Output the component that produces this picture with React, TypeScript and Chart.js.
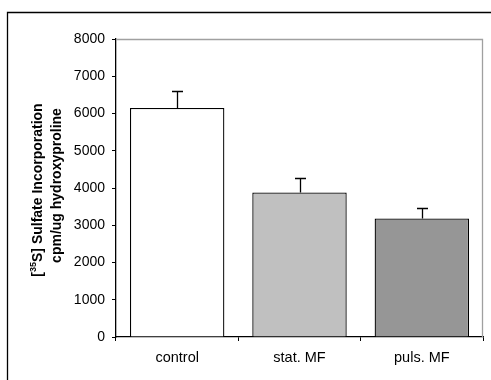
import React, { useEffect, useRef } from "react";
import { Chart, registerables } from "chart.js";

Chart.register(...registerables);

const categories = ["control", "stat. MF", "puls. MF"];
const values = [6150, 3880, 3180];
const errors = [460, 400, 280];
const barColors = ["#ffffff", "#c0c0c0", "#969696"];
const yTitleLine1 = ["[", "35", "S] Sulfate Incorporation"];
const yTitleLine2 = "cpm/ug hydroxyproline";

const FONT = "'Liberation Sans', Arial, sans-serif";

const framePlugin = {
  id: "frame",
  beforeDraw(chart: any) {
    const { ctx, width, height } = chart;
    ctx.save();
    ctx.fillStyle = "#ffffff";
    ctx.fillRect(0, 0, width, height);
    ctx.strokeStyle = "#000000";
    ctx.lineWidth = 1.3;
    ctx.beginPath();
    ctx.moveTo(7.5, height);
    ctx.lineTo(7.5, 12.5);
    ctx.lineTo(width, 12.5);
    ctx.stroke();
    ctx.restore();
  },
  afterDatasetsDraw(chart: any) {
    const { ctx, chartArea } = chart;
    const x = chart.scales.x;
    const y = chart.scales.y;
    ctx.save();
    ctx.strokeStyle = "#a0a0a0";
    ctx.lineWidth = 1.3;
    ctx.beginPath();
    ctx.moveTo(chartArea.left, chartArea.top + 0.5);
    ctx.lineTo(chartArea.right - 0.5, chartArea.top + 0.5);
    ctx.lineTo(chartArea.right - 0.5, chartArea.bottom);
    ctx.stroke();
    ctx.strokeStyle = "#000000";
    ctx.lineWidth = 1.3;
    values.forEach((v, i) => {
      const cx = Math.round(x.getPixelForValue(i)) + 0.5;
      const yTop = y.getPixelForValue(v);
      const yErr = Math.round(y.getPixelForValue(v + errors[i])) + 0.5;
      ctx.beginPath();
      ctx.moveTo(cx, yTop);
      ctx.lineTo(cx, yErr);
      ctx.moveTo(cx - 5.5, yErr);
      ctx.lineTo(cx + 5.5, yErr);
      ctx.stroke();
    });
    const cy = (chartArea.top + chartArea.bottom) / 2;
    ctx.fillStyle = "#000000";
    ctx.textBaseline = "middle";
    const big = "bold 14px " + FONT;
    const small = "bold 9px " + FONT;
    ctx.translate(38, cy);
    ctx.rotate(-Math.PI / 2);
    ctx.font = big;
    const w0 = ctx.measureText(yTitleLine1[0]).width;
    const w2 = ctx.measureText(yTitleLine1[2]).width;
    ctx.font = small;
    const w1 = ctx.measureText(yTitleLine1[1]).width;
    let sx = -(w0 + w1 + w2) / 2 - 2;
    ctx.textAlign = "left";
    ctx.font = big;
    ctx.fillText(yTitleLine1[0], sx, 0);
    sx += w0;
    ctx.font = small;
    ctx.fillText(yTitleLine1[1], sx, -4);
    sx += w1;
    ctx.font = big;
    ctx.fillText(yTitleLine1[2], sx, 0);
    ctx.textAlign = "center";
    ctx.fillText(yTitleLine2, 2.5, 19);
    ctx.restore();
  },
  afterDraw(chart: any) {
    const { ctx, width, height } = chart;
    ctx.save();
    ctx.fillStyle = "#ffffff";
    ctx.fillRect(485, 14, width - 485, height - 14);
    ctx.restore();
  },
};

export default function App() {
  const ref = useRef<HTMLCanvasElement>(null);
  useEffect(() => {
    if (!ref.current) return;
    const chart = new Chart(ref.current, {
      type: "bar",
      data: {
        labels: categories,
        datasets: [
          {
            data: values,
            backgroundColor: barColors,
            borderColor: "#000000",
            borderWidth: 1.3,
            categoryPercentage: 1,
            barPercentage: 0.772,
          },
        ],
      },
      options: {
        animation: false,
        responsive: false,
        maintainAspectRatio: false,
        layout: { padding: { left: 0, top: 39, right: 8, bottom: 0 } },
        plugins: { legend: { display: false }, tooltip: { enabled: false } },
        scales: {
          x: {
            afterFit: (s: any) => {
              s.height = 43;
            },
            grid: {
              offset: true,
              drawOnChartArea: false,
              drawTicks: true,
              tickLength: 4,
              color: "#000000",
            },
            border: { display: true, color: "#000000", width: 1.3 },
            ticks: {
              color: "#000000",
              font: { family: FONT, size: 14.5 },
              padding: 8,
              maxRotation: 0,
            },
          },
          y: {
            min: 0,
            max: 8000,
            afterFit: (s: any) => {
              s.width = 116;
            },
            grid: {
              drawOnChartArea: false,
              drawTicks: true,
              tickLength: 4,
              color: "#000000",
            },
            border: { display: true, color: "#000000", width: 1.3 },
            ticks: {
              stepSize: 1000,
              color: "#000000",
              font: { family: FONT, size: 14 },
              padding: 7,
              callback: (v: any) => String(v),
            },
          },
        },
      },
      plugins: [framePlugin],
    });
    return () => chart.destroy();
  }, []);
  return (
    <div style={{ position: "fixed", left: 0, top: 0, width: 491, height: 380 }}>
      <canvas ref={ref} width={491} height={380} style={{ width: 491, height: 380, display: "block" }} />
    </div>
  );
}
